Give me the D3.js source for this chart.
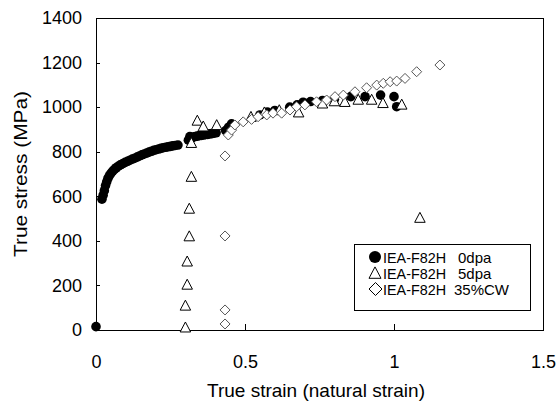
<!DOCTYPE html>
<html>
<head>
<meta charset="utf-8">
<script src="https://cdn.jsdelivr.net/npm/d3@7"></script>
<style>
  html, body { margin: 0; padding: 0; background: #fff; }
  svg { display: block; font-family: "Liberation Sans", Arial, sans-serif; }
</style>
</head>
<body>
<svg id="chart" width="559" height="402"></svg>
<script>
// ---- data ----
const strain0 = [0, 0.020, 0.024, 0.028, 0.032, 0.036, 0.040, 0.045, 0.050, 0.056, 0.062, 0.068, 0.075, 0.082, 0.090, 0.098,
  0.106, 0.114, 0.122, 0.130, 0.138, 0.146, 0.154, 0.162, 0.170, 0.178, 0.186, 0.194, 0.202, 0.210, 0.218, 0.226,
  0.234, 0.242, 0.250, 0.258, 0.266, 0.275,
  0.310, 0.315, 0.320, 0.326, 0.333, 0.340, 0.347, 0.354, 0.361, 0.368, 0.375, 0.382, 0.389, 0.396, 0.403,
  0.435, 0.445, 0.455, 0.55, 0.575, 0.60, 0.65, 0.675, 0.695, 0.72, 0.76, 0.80, 0.855, 0.903, 0.955, 1.0, 1.009];
const stress0 = [15, 587, 605, 625, 648, 665, 680, 693, 703, 713, 721, 728, 735, 741, 747, 752,
  757, 762, 767, 771, 776, 781, 786, 790, 794, 798, 802, 806, 809, 812, 815, 818,
  820, 822, 824, 826, 828, 830,
  852, 868, 860, 866, 868, 870, 872, 873, 875, 877, 878, 880, 881, 883, 885,
  895, 910, 925, 965, 978, 985, 1000, 1010, 1022, 1025, 1030, 1035, 1047, 1047, 1054, 1047, 1002];

const strain5 = [0.300, 0.300, 0.306, 0.306, 0.313, 0.313, 0.320, 0.320, 0.340, 0.360, 0.405, 0.520, 0.565, 0.615,
  0.680, 0.760, 0.800, 0.835, 0.880, 0.925, 0.963, 1.026, 1.087];
const stress5 = [10, 108, 202, 306, 419, 543, 686, 838, 938, 912, 918, 955, 975, 985,
  975, 1015, 1025, 1022, 1032, 1032, 1017, 1010, 502];

const strainCW = [0.433, 0.433, 0.433, 0.433, 0.444, 0.455, 0.466, 0.494, 0.522, 0.544, 0.573, 0.594, 0.623, 0.651,
  0.673, 0.701, 0.740, 0.774, 0.802, 0.830, 0.869, 0.908, 0.942, 0.964, 0.987, 1.009, 1.037, 1.076, 1.154];
const stressCW = [27, 90, 422, 781, 875, 897, 920, 934, 945, 957, 965, 973, 973, 987,
  1002, 1010, 1024, 1032, 1047, 1054, 1069, 1087, 1099, 1107, 1114, 1117, 1129, 1159, 1189];

const xTicks = [0, 0.5, 1, 1.5];
const xTickLabels = ["0", "0.5", "1", "1.5"];
const yTicks = [0, 200, 400, 600, 800, 1000, 1200, 1400];

const seriesNames = ["IEA-F82H", "IEA-F82H", "IEA-F82H"];
const seriesConds = ["0dpa", "5dpa", "35%CW"];
const xTitle = "True strain (natural strain)";
const yTitle = "True stress (MPa)";

// ---- layout ----
const svg = d3.select("#chart");
const L = 96, R = 543, T = 18, B = 330;
const x = d3.scaleLinear().domain([0, 1.5]).range([L, R]);
const y = d3.scaleLinear().domain([0, 1400]).range([B, T]);

// frame
svg.append("rect").attr("x", L).attr("y", T).attr("width", R - L).attr("height", B - T)
  .attr("fill", "none").attr("stroke", "#000").attr("stroke-width", 1).attr("shape-rendering", "crispEdges");

// axes with inward ticks
const xAxis = d3.axisBottom(x).tickValues(xTicks).tickSize(-6).tickFormat((d, i) => xTickLabels[i]).tickPadding(14);
const gx = svg.append("g").attr("transform", `translate(0,${B})`).call(xAxis);
gx.select(".domain").remove();
gx.selectAll("line").attr("stroke", "#000").attr("shape-rendering", "crispEdges");
gx.selectAll("text").attr("font-size", 18).attr("fill", "#000")
  .attr("font-family", "Liberation Sans, Arial, sans-serif").attr("dy", "1.33em");

const yAxis = d3.axisLeft(y).tickValues(yTicks).tickSize(-4).tickPadding(14).tickFormat(d3.format("d"));
const gy = svg.append("g").attr("transform", `translate(${L},0)`).call(yAxis);
gy.select(".domain").remove();
gy.selectAll("line").attr("stroke", "#000").attr("shape-rendering", "crispEdges");
gy.selectAll("text").attr("font-size", 18).attr("fill", "#000")
  .attr("font-family", "Liberation Sans, Arial, sans-serif");

// axis titles
svg.append("text").attr("x", 316).attr("y", 397).attr("text-anchor", "middle")
  .attr("font-size", 19).attr("textLength", 218).attr("lengthAdjust", "spacingAndGlyphs").text(xTitle);
svg.append("text").attr("transform", "translate(27,174) rotate(-90)").attr("text-anchor", "middle")
  .attr("font-size", 19).attr("textLength", 166).attr("lengthAdjust", "spacingAndGlyphs").text(yTitle);

// marker shapes
const triPath = s => `M0,${-s * 0.55}L${s * 0.5},${s * 0.4}L${-s * 0.5},${s * 0.4}Z`;
const diaPath = s => `M0,${-s / 2}L${s / 2},0L0,${s / 2}L${-s / 2},0Z`;

const plot = svg.append("g");
const d0 = strain0.map((s, i) => [s, stress0[i]]);
const d5 = strain5.map((s, i) => [s, stress5[i]]);
const dC = strainCW.map((s, i) => [s, stressCW[i]]);

plot.selectAll("circle.s0").data(d0).join("circle").attr("class", "s0")
  .attr("cx", d => x(d[0])).attr("cy", d => y(d[1])).attr("r", 4.8).attr("fill", "#000");

plot.selectAll("path.s5").data(d5).join("path").attr("class", "s5")
  .attr("transform", d => `translate(${x(d[0])},${y(d[1])})`).attr("d", triPath(10.5))
  .attr("fill", "#fff").attr("stroke", "#000").attr("stroke-width", 1);

plot.selectAll("path.sc").data(dC).join("path").attr("class", "sc")
  .attr("transform", d => `translate(${x(d[0])},${y(d[1])})`).attr("d", diaPath(10))
  .attr("fill", "#fff").attr("stroke", "#555").attr("stroke-width", 1);

// legend
const lg = svg.append("g");
lg.append("rect").attr("x", 354.5).attr("y", 244.5).attr("width", 176).attr("height", 66)
  .attr("fill", "#fff").attr("stroke", "#000").attr("stroke-width", 1);
const rowsY = [257, 273, 289];
lg.append("circle").attr("cx", 375).attr("cy", rowsY[0]).attr("r", 6).attr("fill", "#000");
lg.append("path").attr("transform", `translate(375,${rowsY[1] + 0.5})`).attr("d", triPath(12))
  .attr("fill", "#fff").attr("stroke", "#000");
lg.append("path").attr("transform", `translate(375.5,${rowsY[2]})`).attr("d", diaPath(13))
  .attr("fill", "#fff").attr("stroke", "#000");
const condX = [458, 458, 454];
seriesNames.forEach((n, i) => {
  lg.append("text").attr("x", 383).attr("y", rowsY[i] + 5.5).attr("font-size", 15)
    .attr("textLength", 63).attr("lengthAdjust", "spacingAndGlyphs").text(n);
  lg.append("text").attr("x", condX[i]).attr("y", rowsY[i] + 5.5).attr("font-size", 15).text(seriesConds[i]);
});
</script>
</body>
</html>
